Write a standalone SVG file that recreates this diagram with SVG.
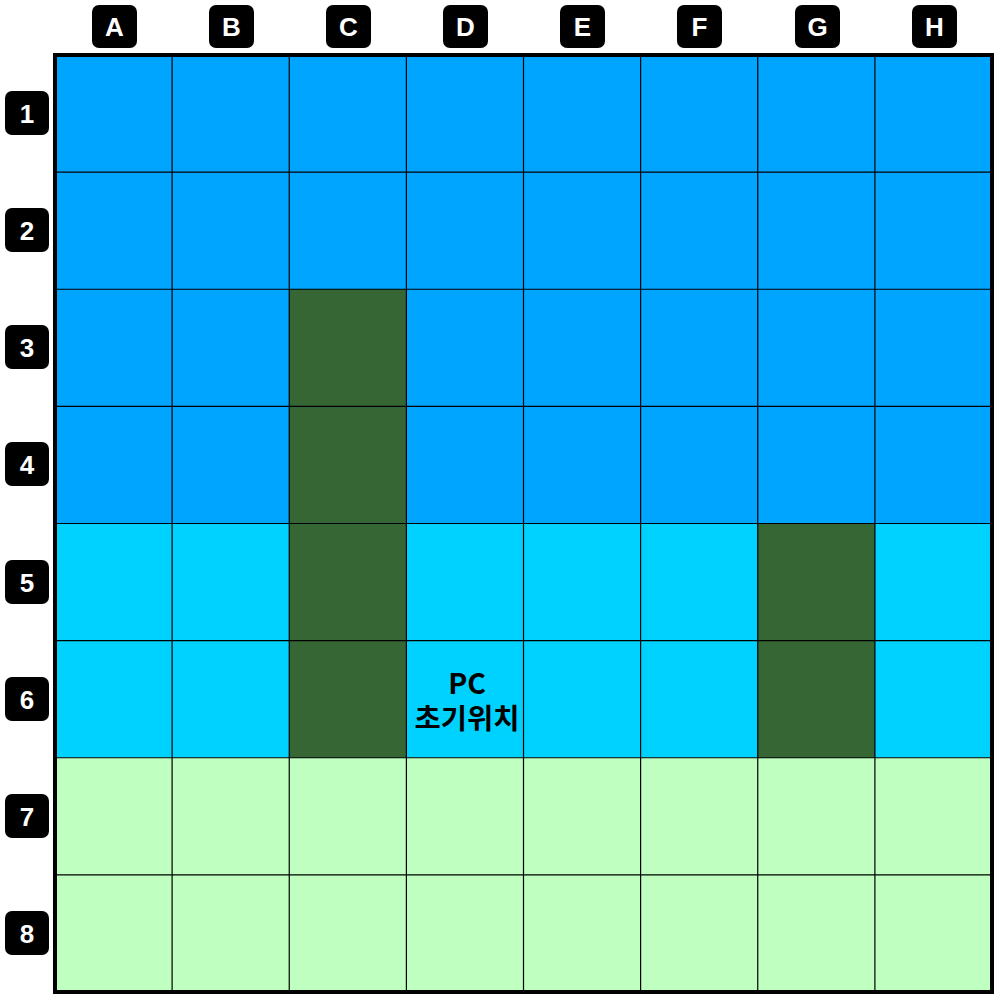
<svg xmlns="http://www.w3.org/2000/svg" width="1000" height="1000" viewBox="0 0 1000 1000">
<style>
.lbl rect{fill:#000}
.lbl text{fill:#fff;font-family:"Liberation Sans",Arial,sans-serif;font-weight:bold;font-size:26px;text-anchor:middle}
.s{fill:#00A5FF}.w{fill:#00D2FF}.g{fill:#356634}.l{fill:#BFFFBF}
.pc{font-family:"Noto Sans CJK KR","Noto Sans",sans-serif;font-weight:bold;font-size:28.5px;text-anchor:middle;fill:#000}
</style>
<rect width="1000" height="1000" fill="#fff"/>
<g id="grid">
<rect class="s" x="55" y="55" width="937" height="468.5"/>
<rect class="w" x="55" y="523.5" width="937" height="234.25"/>
<rect class="l" x="55" y="757.75" width="937" height="234.25"/>
<rect class="g" x="289.25" y="289.25" width="117.125" height="468.5"/>
<rect class="g" x="757.75" y="523.5" width="117.125" height="234.25"/>
<g stroke="#000" stroke-width="1.2">
<line x1="172.1" y1="55" x2="172.1" y2="992"/>
<line x1="289.25" y1="55" x2="289.25" y2="992"/>
<line x1="406.4" y1="55" x2="406.4" y2="992"/>
<line x1="523.5" y1="55" x2="523.5" y2="992"/>
<line x1="640.6" y1="55" x2="640.6" y2="992"/>
<line x1="757.75" y1="55" x2="757.75" y2="992"/>
<line x1="874.9" y1="55" x2="874.9" y2="992"/>
<line y1="172.1" x1="55" y2="172.1" x2="992"/>
<line y1="289.25" x1="55" y2="289.25" x2="992"/>
<line y1="406.4" x1="55" y2="406.4" x2="992"/>
<line y1="523.5" x1="55" y2="523.5" x2="992"/>
<line y1="640.6" x1="55" y2="640.6" x2="992"/>
<line y1="757.75" x1="55" y2="757.75" x2="992"/>
<line y1="874.9" x1="55" y2="874.9" x2="992"/>
</g>
<rect x="55" y="55" width="937" height="937" fill="none" stroke="#000" stroke-width="4"/>
</g>
<g id="pc">
<text class="pc" x="467" y="694"><tspan x="467" y="694">PC</tspan><tspan x="467" y="729">초기위치</tspan></text>
</g>
<g id="cols" class="lbl">
<g id="colA"><rect x="92" y="5" width="45" height="43" rx="7"/><text x="114.5" y="36">A</text></g>
<g id="colB"><rect x="209" y="5" width="45" height="43" rx="7"/><text x="231.5" y="36">B</text></g>
<g id="colC"><rect x="326" y="5" width="45" height="43" rx="7"/><text x="348.5" y="36">C</text></g>
<g id="colD"><rect x="443" y="5" width="45" height="43" rx="7"/><text x="465.5" y="36">D</text></g>
<g id="colE"><rect x="560" y="5" width="45" height="43" rx="7"/><text x="582.5" y="36">E</text></g>
<g id="colF"><rect x="677" y="5" width="45" height="43" rx="7"/><text x="699.5" y="36">F</text></g>
<g id="colG"><rect x="795" y="5" width="45" height="43" rx="7"/><text x="817.5" y="36">G</text></g>
<g id="colH"><rect x="912" y="5" width="45" height="43" rx="7"/><text x="934.5" y="36">H</text></g>
</g>
<g id="rows" class="lbl">
<g id="row1"><rect x="5" y="91" width="44" height="44" rx="7"/><text x="27" y="123">1</text></g>
<g id="row2"><rect x="5" y="208" width="44" height="44" rx="7"/><text x="27" y="240">2</text></g>
<g id="row3"><rect x="5" y="325" width="44" height="44" rx="7"/><text x="27" y="357">3</text></g>
<g id="row4"><rect x="5" y="442" width="44" height="44" rx="7"/><text x="27" y="474">4</text></g>
<g id="row5"><rect x="5" y="560" width="44" height="44" rx="7"/><text x="27" y="592">5</text></g>
<g id="row6"><rect x="5" y="677" width="44" height="44" rx="7"/><text x="27" y="709">6</text></g>
<g id="row7"><rect x="5" y="794" width="44" height="44" rx="7"/><text x="27" y="826">7</text></g>
<g id="row8"><rect x="5" y="911" width="44" height="44" rx="7"/><text x="27" y="943">8</text></g>
</g>
</svg>
